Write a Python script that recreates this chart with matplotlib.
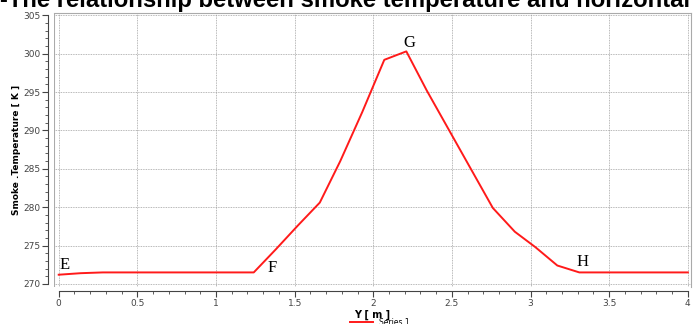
import matplotlib
matplotlib.use('Agg')
import matplotlib.pyplot as plt
from matplotlib.ticker import MultipleLocator

# horizontal distance [m] and smoke temperature [K]
distance = [0.0, 0.14, 0.28, 0.41, 0.55, 0.69, 0.83, 0.97, 1.10, 1.24,
            1.38, 1.52, 1.66, 1.79, 1.93, 2.07, 2.21, 2.34, 2.48, 2.62,
            2.76, 2.90, 3.03, 3.17, 3.31, 3.45, 3.59, 3.72, 3.86, 4.0]
temperature = [271.2, 271.4, 271.5, 271.5, 271.5, 271.5, 271.5, 271.5, 271.5, 271.5,
               274.5, 277.6, 280.6, 286.0, 292.4, 299.2, 300.3, 295.2, 290.1, 285.0,
               279.9, 276.8, 274.8, 272.4, 271.5, 271.5, 271.5, 271.5, 271.5, 271.5]

point_names = ['E', 'F', 'G', 'H']
point_x = [0.04, 1.36, 2.23, 3.33]
point_y = [272.5, 272.1, 301.4, 272.9]

title = '-The relationship between smoke temperature and horizontal'

fig = plt.figure(figsize=(6.93, 3.24), dpi=100)
ax = fig.add_axes([54/693, 37/324, 637/693, 274/324])

ax.plot(distance, temperature, color='#ff1a1a', lw=1.4, label='Series 1')

for name, px, py in zip(point_names, point_x, point_y):
    ax.text(px, py, name, family='Liberation Serif', fontsize=12,
            ha='center', va='center', color='black')

ax.set_xlim(-0.03, 4.02)
ax.set_ylim(269.6, 305.3)
ax.xaxis.set_major_locator(MultipleLocator(0.5))
ax.xaxis.set_minor_locator(MultipleLocator(0.1))
ax.yaxis.set_major_locator(MultipleLocator(5))
ax.yaxis.set_minor_locator(MultipleLocator(1))
ax.set_xticks([0, 0.5, 1, 1.5, 2, 2.5, 3, 3.5, 4])
ax.set_xticklabels(['0', '0.5', '1', '1.5', '2', '2.5', '3', '3.5', '4'])

ax.grid(True, which='major', color='#a0a0a0', ls=(0, (1, 1)), lw=0.6)

for s in ['top', 'right']:
    ax.spines[s].set_color('#aaaaaa')
ax.spines['left'].set_position(('outward', 4))
ax.spines['bottom'].set_position(('outward', 3))
ax.spines['left'].set_color('#444444')
ax.spines['bottom'].set_color('#444444')
ax.spines['left'].set_bounds(270, 305)
ax.spines['bottom'].set_bounds(0, 4)

ax.tick_params(which='major', length=4, width=0.8, colors='#444444',
               labelsize=6.5, pad=2)
ax.tick_params(which='minor', length=2, width=0.6, colors='#444444')

ax.set_xlabel('Y [ m ]', fontsize=7, fontweight='bold', labelpad=1)
ax.set_ylabel('Smoke .Temperature [ K ]', fontsize=6.5, fontweight='bold',
              labelpad=1)

# inner grey frame line on the left
ax.axvline(-0.03, color='#aaaaaa', lw=1.5)

fig.text(0.0, 1 - 7.5/324, title, fontsize=17.2, fontweight='bold',
         family='Liberation Sans', ha='left', va='baseline')

fig.legend(loc='upper center', bbox_to_anchor=(0.548, 9/324), frameon=False,
           fontsize=5.5, handlelength=3, borderaxespad=0)

fig.savefig('out.png', dpi=100)
